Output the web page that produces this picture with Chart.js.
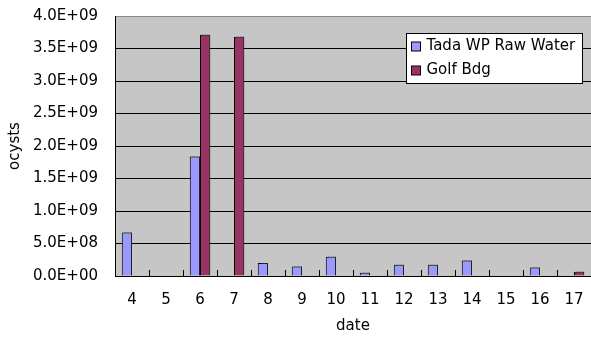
<!DOCTYPE html>
<html>
<head>
<meta charset="utf-8">
<script src="https://cdn.jsdelivr.net/npm/chart.js@4/dist/chart.umd.min.js"></script>
<style>
  html, body { margin: 0; padding: 0; background: #ffffff; }
  #wrap { width: 591px; height: 344px; position: relative; }
</style>
</head>
<body>
<div id="wrap"><canvas id="chart" width="591" height="344"></canvas></div>
<script>
// Oocyst counts per sampling date
const dates = ['4', '5', '6', '7', '8', '9', '10', '11', '12', '13', '14', '15', '16', '17'];
const tadaRawWater = [6.7e8, null, 1.84e9, null, 2.0e8, 1.47e8, 2.96e8, 4.9e7, 1.73e8, 1.73e8, 2.39e8, null, 1.31e8, null];
const golfBdg = [null, null, 3.71e9, 3.68e9, null, null, null, null, null, null, null, null, null, 6.5e7];
const seriesNames = ['Tada WP Raw Water', 'Golf Bdg'];
const yTicks = [0, 5e8, 1e9, 1.5e9, 2e9, 2.5e9, 3e9, 3.5e9, 4e9];

const FONT = 'DejaVu Sans';
const BLUE = '#9999ff';
const PLUM = '#993366';

// Excel-style scientific label, e.g. 3.5E+09
function sci(v) {
  if (v === 0) return '0.0E+00';
  let e = Math.floor(Math.log10(Math.abs(v)));
  let m = v / Math.pow(10, e);
  if (Math.abs(m) >= 9.95) { m /= 10; e += 1; }
  const sign = e < 0 ? '-' : '+';
  const ae = Math.abs(e);
  return m.toFixed(1) + 'E' + sign + (ae < 10 ? '0' + ae : String(ae));
}

// Keep the scales from reserving extra room for overhanging labels
function noOverhang(scale) {
  scale.paddingTop = 0;
  scale.paddingBottom = 0;
  scale.paddingLeft = 0;
  scale.paddingRight = 0;
}

// Grey plot background
const plotBackground = {
  id: 'plotBackground',
  beforeDraw(chart) {
    const { ctx, chartArea: a } = chart;
    ctx.save();
    ctx.fillStyle = '#c6c6c6';
    ctx.fillRect(a.left, a.top, a.right - a.left, a.bottom - a.top);
    ctx.restore();
  }
};

// Small shadow behind the bars
const barShadow = {
  id: 'barShadow',
  beforeDatasetsDraw(chart) {
    const ctx = chart.ctx;
    ctx.save();
    ctx.shadowColor = 'rgba(60,60,60,0.55)';
    ctx.shadowOffsetX = 2;
    ctx.shadowOffsetY = -1;
    ctx.shadowBlur = 0;
  },
  afterDatasetsDraw(chart) {
    chart.ctx.restore();
  }
};

// Inside tick marks between categories on the date axis
const categoryTicks = {
  id: 'categoryTicks',
  afterDatasetsDraw(chart) {
    const { ctx, scales: { x }, chartArea: a } = chart;
    const n = chart.data.labels.length;
    ctx.save();
    ctx.strokeStyle = '#000000';
    ctx.lineWidth = 1;
    ctx.beginPath();
    for (let i = 1; i < n; i++) {
      const px = Math.round((x.getPixelForValue(i - 1) + x.getPixelForValue(i)) / 2) + 0.5;
      ctx.moveTo(px, a.bottom);
      ctx.lineTo(px, a.bottom - 6);
    }
    ctx.stroke();
    ctx.restore();
  }
};

// Boxed legend inside the plot area, top right
const boxLegend = {
  id: 'boxLegend',
  afterDraw(chart) {
    const { ctx, chartArea: a } = chart;
    const ds = chart.data.datasets;
    const boxW = 176, rowH = 24;
    const boxH = ds.length * rowH + 2;
    const bx = Math.round(a.right - 9 - boxW) + 0.5;
    const by = Math.round(a.top + 17) + 0.5;
    ctx.save();
    ctx.fillStyle = '#ffffff';
    ctx.fillRect(bx, by, boxW, boxH);
    ctx.strokeStyle = '#000000';
    ctx.lineWidth = 1;
    ctx.strokeRect(bx, by, boxW, boxH);
    ctx.font = '15px "' + FONT + '"';
    ctx.textBaseline = 'middle';
    ctx.textAlign = 'left';
    ds.forEach((d, i) => {
      const cy = by + 13 + i * rowH;
      ctx.fillStyle = d.backgroundColor;
      ctx.fillRect(bx + 5, cy - 4.5, 9, 9);
      ctx.strokeStyle = '#000000';
      ctx.strokeRect(bx + 5, cy - 4.5, 9, 9);
      ctx.fillStyle = '#000000';
      ctx.fillText(d.label, bx + 20, cy);
    });
    ctx.restore();
  }
};

new Chart(document.getElementById('chart'), {
  type: 'bar',
  data: {
    labels: dates,
    datasets: [
      { label: seriesNames[0], data: tadaRawWater, backgroundColor: BLUE, borderColor: '#000000', borderWidth: 1 },
      { label: seriesNames[1], data: golfBdg, backgroundColor: PLUM, borderColor: '#000000', borderWidth: 1 }
    ]
  },
  options: {
    responsive: false,
    animation: false,
    devicePixelRatio: 1,
    layout: { padding: { top: 16, right: 0, bottom: 0, left: 0 } },
    datasets: { bar: { categoryPercentage: 0.6, barPercentage: 1.0 } },
    plugins: {
      legend: { display: false },
      tooltip: { enabled: false }
    },
    scales: {
      x: {
        grid: { display: false, drawTicks: false },
        border: { display: true, color: '#000000', width: 1 },
        ticks: { color: '#000000', font: { family: FONT, size: 15 }, padding: 15, maxRotation: 0, autoSkip: false },
        title: { display: true, text: 'date', color: '#000000', font: { family: FONT, size: 15 }, padding: { top: 0, bottom: 9 } },
        afterFit(scale) { scale.height = 68; noOverhang(scale); }
      },
      y: {
        min: 0,
        max: 4e9,
        afterBuildTicks(scale) { scale.ticks = yTicks.map(v => ({ value: v })); },
        grid: {
          drawTicks: false,
          color: ctx => (ctx.tick && ctx.tick.value === 4e9) ? '#8a8a8a' : '#000000',
          lineWidth: 1
        },
        border: { display: true, color: '#000000', width: 1 },
        ticks: { color: '#000000', font: { family: FONT, size: 15 }, padding: 17, callback: v => sci(v) },
        title: { display: true, text: 'ocysts', color: '#000000', font: { family: FONT, size: 15 }, padding: { top: 6, bottom: 0 } },
        afterFit(scale) { scale.width = 115; noOverhang(scale); }
      }
    }
  },
  plugins: [plotBackground, barShadow, categoryTicks, boxLegend]
});
</script>
</body>
</html>
